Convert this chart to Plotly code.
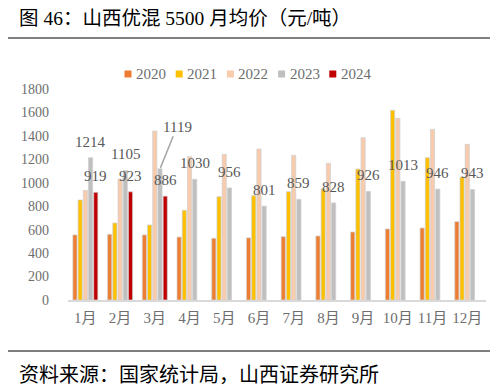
import plotly.graph_objects as go

months = ["1月", "2月", "3月", "4月", "5月", "6月", "7月", "8月", "9月", "10月", "11月", "12月"]
y2020 = [555, 560, 555, 537, 526, 530, 540, 546, 580, 606, 614, 668]
y2021 = [853, 657, 640, 765, 881, 890, 924, 947, 1117, 1618, 1214, 1049]
y2022 = [935, 1032, 1441, 1223, 1242, 1288, 1234, 1166, 1385, 1550, 1456, 1328]
y2023 = [1214, 1105, 1119, 1030, 956, 801, 859, 828, 926, 1013, 946, 943]
y2024 = [919, 923, 886]
series_names = ["2020", "2021", "2022", "2023", "2024"]
colors = ["#ED7D31", "#FFC000", "#F8CBAD", "#BFBFBF", "#C00000"]
series_vals = [y2020, y2021, y2022, y2023, y2024]

# the page adds an 8px body margin, so the figure is drawn 8px smaller and shifted
OFF = 8
W, H = 498 - OFF, 392 - OFF
L, R, T, B = 68 - OFF, 20 - OFF, 89 - OFF, 92  # plot: x 68..478, y 89..300 in screen px
pw, ph = W - L - R, H - T - B

def px_x(px):
    return (px - OFF - L) / pw

def px_y(py):
    return (H - B - (py - OFF)) / ph

serif = "Liberation Serif, Noto Sans CJK SC"
gray = "#6E6E6E"

fig = go.Figure()
for name, col, vals in zip(series_names, colors, series_vals):
    fig.add_trace(go.Bar(
        x=months[:len(vals)], y=vals, name=name,
        marker=dict(color=col, line=dict(color="#D0D0D0", width=0.75)),
        showlegend=False,
    ))

bargap = 0.25
slot = pw / 12 * (1 - bargap) / 5
annotations = []
for si, vals in ((3, y2023), (4, y2024)):
    off = (si - 2) * slot
    for i, v in enumerate(vals):
        if si == 3 and i == 2:
            annotations.append(dict(
                x=months[i], y=v, xshift=off, text=str(v), showarrow=True,
                arrowhead=0, arrowcolor="#A6A6A6", arrowwidth=1.5,
                ax=17, ay=-42, standoff=1,
                font=dict(family=serif, size=15, color="#595959"),
            ))
        else:
            annotations.append(dict(
                x=months[i], y=v, xshift=off, yshift=16, text=str(v),
                showarrow=False, yanchor="middle",
                font=dict(family=serif, size=15, color="#595959"),
            ))

shapes = []
# legend (manual)
for i, (name, col) in enumerate(zip(series_names, colors)):
    cx = 128 + 51.2 * i
    cy = 74
    shapes.append(dict(type="rect", xref="paper", yref="paper",
                       x0=px_x(cx - 3.5), x1=px_x(cx + 3.5),
                       y0=px_y(cy + 3.5), y1=px_y(cy - 3.5),
                       fillcolor=col, line=dict(width=0)))
    annotations.append(dict(
        xref="paper", yref="paper", x=px_x(cx + 6), y=px_y(cy), xanchor="left",
        yanchor="middle", text=name, showarrow=False,
        font=dict(family=serif, size=15, color=gray),
    ))

annotations.append(dict(
    xref="paper", yref="paper", x=px_x(17), y=px_y(18), xanchor="left", yanchor="middle",
    text="图 46：山西优混 5500 月均价（元/吨）", showarrow=False,
    font=dict(family=serif, size=19.5, color="#000000"),
))
annotations.append(dict(
    xref="paper", yref="paper", x=px_x(17), y=px_y(373), xanchor="left", yanchor="middle",
    text="资料来源：国家统计局，山西证券研究所", showarrow=False,
    font=dict(family="Noto Sans CJK SC", size=20, color="#000000"),
))

shapes += [
    dict(type="line", xref="paper", yref="paper", x0=px_x(5), x1=px_x(492),
         y0=px_y(38), y1=px_y(38), line=dict(color="#000000", width=1)),
    dict(type="line", xref="paper", yref="paper", x0=px_x(6), x1=px_x(492),
         y0=px_y(351), y1=px_y(351), line=dict(color="#000000", width=1)),
]

fig.update_layout(
    width=W, height=H,
    margin=dict(l=L, r=R, t=T, b=B, pad=0, autoexpand=False),
    paper_bgcolor="white", plot_bgcolor="white",
    barmode="group", bargap=bargap, bargroupgap=0.2,
    annotations=annotations, shapes=shapes,
    showlegend=False,
    xaxis=dict(
        showline=True, linecolor="#D9D9D9", linewidth=2,
        showgrid=False, ticks="", ticklabelstandoff=3,
        tickfont=dict(family=serif, size=15, color=gray),
    ),
    yaxis=dict(
        range=[0, 1800], dtick=200, showgrid=False, zeroline=False,
        showline=False, ticks="", ticklabelstandoff=18,
        tickfont=dict(family=serif, size=14, color=gray),
    ),
)

fig.write_html("out.html")
